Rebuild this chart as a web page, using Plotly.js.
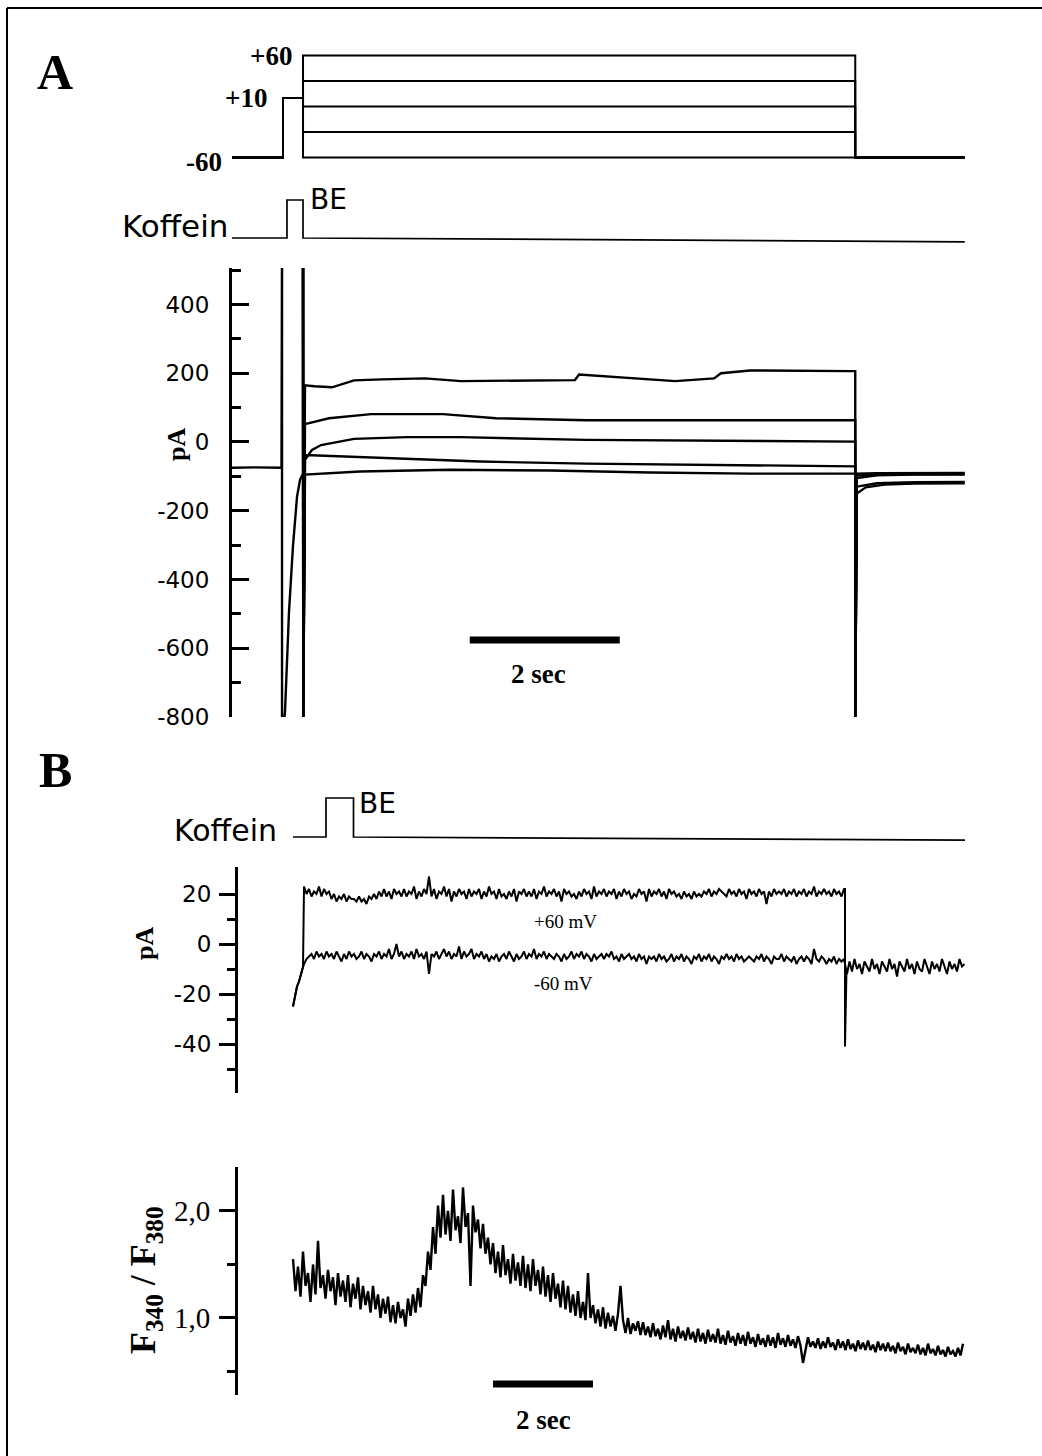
<!DOCTYPE html>
<html><head><meta charset="utf-8">
<script src="https://cdn.plot.ly/plotly-3.0.1.min.js"></script>
<style>html,body{margin:0;padding:0;background:#fff}#chart{width:1042px;height:1456px}</style>
</head><body><div id="chart"></div>
<script>
// ================= DATA =================
// ---- Panel A: voltage protocol (mV) ----
const holdV = -60, preV = 10;
const stepLevels = [60, 30, 0, -30, -60];
const protoTime = [0, 0.68, 0.68, 0.947, 0.947, 8.31, 8.31, 9.77]; // s
const protoLabels = ["+60", "+10", "-60"];

// ---- Panel A: caffeine application (BE) ----
const kofATime = [0, 0.733, 0.733, 0.947, 0.947, 9.77];
const kofAVal  = [0, 0, 1, 1, 0, -0.1];

// ---- Panel A: membrane currents (pA) ----
const preCurTime = [0, 0.30, 0.66, 0.667, 0.667, 0.70, 0.707, 0.733, 0.76, 0.813, 0.867, 0.907, 0.94];
const preCurVal  = [-75, -74, -75, 600, -800, -800, -783, -650, -494, -303, -159, -110, -95];

const curP60Time = [0.947, 0.950, 0.973, 1.10, 1.333, 1.627, 2.0, 2.573, 3.053, 3.76, 4.2, 4.573, 4.627, 5.187, 5.907, 6.427, 6.52, 6.907, 7.573, 8.24, 8.31, 8.31, 8.33, 8.45, 8.7, 9.1, 9.77];
const curP60Val  = [600, -800, 165, 162, 159, 179, 182, 185, 177, 179, 181, 180, 196, 188, 177, 185, 200, 208, 206, 206, 206, -800, -150, -132, -124, -121, -120];

const curP30Time = [0.947, 0.950, 0.973, 1.293, 1.853, 2.813, 3.52, 4.72, 5.667, 7.0, 8.24, 8.31, 8.31, 8.33, 8.6, 9.1, 9.77];
const curP30Val  = [600, -800, 52, 69, 81, 81, 69, 63, 63, 64, 63, 63, -800, -130, -120, -117, -116];

const cur0Time = [0.947, 0.950, 0.973, 1.067, 1.187, 1.627, 2.333, 3.053, 4.72, 6.5, 8.24, 8.31, 8.31, 8.33, 8.6, 9.1, 9.77];
const cur0Val  = [600, -800, -52, -23, -9, 9, 14, 14, 6, 4, 1, 1, -800, -105, -97, -95, -95];

const curM30Time = [0.947, 0.950, 0.973, 1.627, 2.333, 3.307, 4.72, 6.24, 7.573, 8.24, 8.31, 8.31, 8.33, 8.6, 9.1, 9.77];
const curM30Val  = [600, -800, -38, -43, -49, -57, -63, -66, -69, -71, -71, -800, -98, -94, -93, -93];

const curM60Time = [0.947, 0.950, 0.973, 1.173, 1.707, 2.907, 4.24, 5.573, 6.907, 8.24, 8.31, 8.31, 8.33, 8.6, 9.1, 9.77];
const curM60Val  = [600, -800, -95, -92, -86, -81, -83, -89, -92, -92, -92, -800, -92, -91, -90, -90];

const yTicksA = [-800, -600, -400, -200, 0, 200, 400];
const yTickTextA = ["-800", "-600", "-400", "-200", "0", "200", "400"];
const yMinorA = [-700, -500, -300, -100, 100, 300, 500];
const scaleBarA = {start: 3.17, length: 2, label: "2 sec"};

// ---- Panel B: caffeine application ----
const kofBTime = [1.10, 1.76, 1.76, 2.31, 2.31, 14.54];
const kofBVal  = [0, 0, 1, 1, 0, -0.08];

// ---- Panel B: currents (pA), sampled every 0.05 s ----
const bStartTime = [1.10, 1.14, 1.18, 1.22, 1.26, 1.30];
const bStartVal  = [-25, -21, -17, -15, -12, -9];
const sampleDt = 0.05;
const bStepStart = 1.32;
const bP60 = [
 23,20,22,19,21,20,23,19,22,20, 21,18,20,17,19,18,20,17,19,18,
 18,17,19,17,18,16,19,18,20,18, 21,19,22,19,21,18,22,20,21,19,
 22,19,21,20,23,18,21,19,22,20, 27,19,22,18,21,20,23,19,22,17,
 21,19,22,20,21,18,22,19,21,20, 22,18,21,19,23,20,21,18,22,19,
 20,18,21,19,22,17,21,20,22,19, 21,19,22,18,21,20,23,19,21,20,
 22,19,21,17,22,20,21,19,20,18, 21,19,22,20,21,18,23,19,21,20,
 22,19,21,20,22,18,21,19,22,20, 21,18,20,19,22,20,21,17,22,19,
 21,20,22,19,21,18,22,20,21,19, 20,18,21,19,20,18,21,19,20,19,
 21,20,22,19,21,20,22,21,20,19, 22,20,21,19,22,20,21,18,22,20,
 21,19,22,20,21,16,21,19,22,20, 21,20,22,19,21,20,22,19,21,20,
 22,19,21,20,23,19,21,20,22,20, 21,19,22,20,21,19,22];
const bP60EndTime = [12.14, 12.14, 12.17];
const bP60EndVal  = [22, -41, -10];
const bM60 = [
 -8,-6,-5,-4,-6,-3,-5,-4,-6,-3, -5,-4,-6,-3,-5,-7,-4,-6,-3,-5,
 -4,-6,-5,-3,-6,-4,-5,-7,-4,-5, -3,-6,-4,-5,-2,-6,-4,0,-5,-3,
 -6,-4,-5,-3,-6,-2,-5,-4,-6,-3, -12,-4,-5,-3,-6,-4,-2,-5,-3,-6,
 -4,-5,-1,-6,-3,-5,-4,-2,-6,-4, -5,-3,-6,-4,-7,-5,-6,-4,-7,-5,
 -4,-6,-3,-5,-7,-4,-6,-5,-3,-6, -4,-5,-2,-6,-4,-5,-3,-6,-4,-5,
 -6,-4,-5,-7,-4,-6,-5,-3,-6,-4, -5,-3,-6,-4,-5,-7,-4,-6,-5,-4,
 -6,-4,-5,-3,-6,-5,-7,-4,-6,-5, -4,-6,-5,-7,-4,-6,-5,-8,-5,-6,
 -5,-7,-4,-6,-5,-7,-6,-4,-7,-5, -6,-4,-7,-5,-6,-8,-5,-6,-4,-7,
 -5,-6,-4,-7,-5,-6,-8,-5,-6,-4, -6,-5,-7,-4,-6,-5,-7,-6,-5,-6,
 -7,-5,-6,-4,-7,-5,-6,-8,-5,-6, -6,-4,-7,-5,-6,-7,-5,-8,-6,-5,
 -7,-5,-6,-8,-2,-6,-7,-5,-6,-8, -6,-7,-5,-8,-6,-7,-6];
const bTailStart = 12.18;
const bTail = [
 -12,-7,-11,-6,-10,-8,-12,-7,-9,-11, -6,-10,-8,-12,-7,-9,-11,-6,-10,-8,
 -13,-7,-9,-11,-6,-10,-8,-12,-7,-10, -11,-6,-9,-12,-7,-10,-8,-11,-6,-9,
 -12,-7,-10,-8,-11,-6,-9,-8];
const bTraceLabels = ["+60 mV", "-60 mV"];
const yTicksB = [-40, -20, 0, 20];
const yTickTextB = ["-40", "-20", "0", "20"];
const yMinorB = [-50, -30, -10, 10];

// ---- Panel B: Fura-2 ratio F340/F380, sampled every 0.05 s ----
const fStart = 1.10;
const fRatio = [
 1.55,1.25,1.48,1.20,1.62,1.30,1.42,1.15,1.50,1.22,
 1.72,1.28,1.40,1.18,1.45,1.25,1.38,1.12,1.42,1.20,
 1.35,1.15,1.40,1.10,1.32,1.18,1.38,1.08,1.30,1.12,
 1.25,1.05,1.30,1.08,1.22,1.00,1.18,1.04,1.20,0.96,
 1.12,0.95,1.15,1.00,1.08,0.92,1.18,1.02,1.22,1.05,
 1.28,1.10,1.40,1.30,1.62,1.45,1.85,1.60,2.05,1.75,
 2.15,1.78,2.00,1.72,2.20,1.82,1.95,1.70,2.22,1.85,
 1.98,1.30,2.05,1.80,1.92,1.65,1.88,1.60,1.75,1.50,
 1.70,1.42,1.62,1.38,1.68,1.40,1.55,1.32,1.60,1.35,
 1.52,1.30,1.58,1.28,1.50,1.25,1.55,1.30,1.45,1.22,
 1.48,1.20,1.40,1.15,1.42,1.18,1.32,1.10,1.35,1.08,
 1.30,1.05,1.22,1.02,1.25,1.00,1.15,0.98,1.42,1.00,
 1.12,0.95,1.08,0.92,1.10,0.90,1.05,0.92,1.02,0.88,
 1.04,1.30,0.98,0.86,1.00,0.85,0.95,0.88,0.97,0.84,
 0.96,0.84,0.92,0.82,0.95,0.83,0.90,0.80,0.93,0.82,
 0.98,0.80,0.90,0.78,0.92,0.81,0.88,0.79,0.91,0.80,
 0.87,0.77,0.90,0.78,0.86,0.76,0.89,0.78,0.85,0.77,
 0.90,0.76,0.84,0.75,0.88,0.77,0.83,0.74,0.86,0.76,
 0.84,0.74,0.87,0.76,0.82,0.73,0.85,0.75,0.81,0.73,
 0.84,0.74,0.82,0.72,0.86,0.75,0.81,0.73,0.84,0.74,
 0.80,0.72,0.83,0.74,0.58,0.71,0.82,0.73,0.78,0.72,
 0.81,0.71,0.78,0.72,0.82,0.73,0.77,0.70,0.80,0.72,
 0.78,0.70,0.80,0.71,0.76,0.69,0.79,0.71,0.77,0.70,
 0.79,0.70,0.75,0.68,0.78,0.70,0.76,0.69,0.77,0.69,
 0.74,0.67,0.77,0.69,0.73,0.66,0.76,0.68,0.72,0.67,
 0.75,0.66,0.72,0.65,0.76,0.67,0.71,0.65,0.74,0.66,
 0.70,0.64,0.73,0.66,0.69,0.64,0.72,0.65,0.76];
const yTicksF = [1, 2];
const yTickTextF = ["1,0", "2,0"];
const yMinorF = [0.5, 1.5];
const scaleBarB = {start: 5.1, length: 2, label: "2 sec"};

// ================= LAYOUT HELPERS =================
const W = 1042, H = 1456;
const px = x => x / W;
const py = y => 1 - y / H;
const dx = (l, r) => [l / W, r / W];
const dy = (t, b) => [1 - b / H, 1 - t / H];
const timeBase = (t0, n) => Array.from({length: n}, (_, i) => +(t0 + i * sampleDt).toFixed(4));

const K = '#000';
const line = (w) => ({color: K, width: w});

const traces = [];
// voltage protocol
stepLevels.forEach(L => {
  traces.push({x: protoTime, y: [holdV, holdV, preV, preV, L, L, holdV, holdV],
    xaxis: 'x', yaxis: 'y', mode: 'lines', line: line(2)});
});
// caffeine A
traces.push({x: kofATime, y: kofAVal, xaxis: 'x', yaxis: 'y2', mode: 'lines', line: line(1.7)});
// currents A
traces.push({x: preCurTime, y: preCurVal, xaxis: 'x', yaxis: 'y3', mode: 'lines', line: line(2.4)});
[[curP60Time, curP60Val], [curP30Time, curP30Val], [cur0Time, cur0Val], [curM30Time, curM30Val], [curM60Time, curM60Val]]
  .forEach(([t, v]) => traces.push({x: t, y: v, xaxis: 'x', yaxis: 'y3', mode: 'lines', line: line(2.4)}));
// caffeine B
traces.push({x: kofBTime, y: kofBVal, xaxis: 'x2', yaxis: 'y4', mode: 'lines', line: line(1.7)});
// currents B
const p60T = timeBase(bStepStart, bP60.length);
const m60T = timeBase(bStepStart, bM60.length);
const tailT = timeBase(bTailStart, bTail.length);
traces.push({x: bStartTime.concat(p60T, bP60EndTime), y: bStartVal.concat(bP60, bP60EndVal),
  xaxis: 'x2', yaxis: 'y5', mode: 'lines', line: line(2)});
traces.push({x: bStartTime.concat(m60T, tailT), y: bStartVal.concat(bM60, bTail),
  xaxis: 'x2', yaxis: 'y5', mode: 'lines', line: line(2)});
// ratio
traces.push({x: timeBase(fStart, fRatio.length), y: fRatio, xaxis: 'x2', yaxis: 'y6', mode: 'lines', line: line(2.4)});

const serif = 'Liberation Serif, Times New Roman, serif';
const sans = 'DejaVu Sans, Arial, sans-serif';

const hiddenY = (dom, rng, anchor) => ({domain: dom, range: rng, anchor: anchor, visible: false, fixedrange: true});

const layout = {
  width: W, height: H, margin: {l: 0, r: 0, t: 0, b: 0},
  paper_bgcolor: '#fff', plot_bgcolor: 'rgba(0,0,0,0)', showlegend: false,
  xaxis: {domain: dx(232, 970), range: [0, (970 - 232) / 75], anchor: 'y3', visible: false},
  xaxis2: {domain: dx(238, 970), range: [0, (970 - 238) / 50], anchor: 'y6', visible: false},
  yaxis: hiddenY(dy(40, 170), [-74.7, 78.2], 'x'),
  yaxis2: hiddenY(dy(185, 250), [-0.316, 1.395], 'x'),
  yaxis3: {domain: dy(268, 717), range: [-800, 506], anchor: 'x',
    showline: true, linecolor: K, linewidth: 3, showgrid: false, zeroline: false,
    ticks: 'inside', ticklen: 17, tickwidth: 3, tickcolor: K,
    tickvals: yTicksA, ticktext: yTickTextA, ticklabelstandoff: 15,
    tickfont: {family: sans, size: 23, color: K},
    minor: {tickvals: yMinorA, ticks: 'inside', ticklen: 9, tickwidth: 3, tickcolor: K, showgrid: false}},
  yaxis4: hiddenY(dy(785, 848), [-0.282, 1.333], 'x2'),
  yaxis5: {domain: dy(867, 1093), range: [-59.6, 30.8], anchor: 'x2',
    showline: true, linecolor: K, linewidth: 3, showgrid: false, zeroline: false,
    ticks: 'outside', ticklen: 16, tickwidth: 3, tickcolor: K,
    tickvals: yTicksB, ticktext: yTickTextB, ticklabelstandoff: 3,
    tickfont: {family: sans, size: 23, color: K},
    minor: {tickvals: yMinorB, ticks: 'outside', ticklen: 8, tickwidth: 3, tickcolor: K, showgrid: false}},
  yaxis6: {domain: dy(1167, 1395), range: [0.280, 2.411], anchor: 'x2',
    showline: true, linecolor: K, linewidth: 3, showgrid: false, zeroline: false,
    ticks: 'outside', ticklen: 16, tickwidth: 3, tickcolor: K,
    tickvals: yTicksF, ticktext: yTickTextF, ticklabelstandoff: 3,
    tickfont: {family: serif, size: 29, color: K},
    minor: {tickvals: yMinorF, ticks: 'outside', ticklen: 8, tickwidth: 3, tickcolor: K, showgrid: false}},
  shapes: [
    {type: 'line', xref: 'paper', yref: 'paper', x0: px(7), x1: px(1042), y0: py(8), y1: py(8), line: {color: K, width: 2}},
    {type: 'line', xref: 'paper', yref: 'paper', x0: px(7), x1: px(7), y0: py(8), y1: py(1456), line: {color: K, width: 2}},
    {type: 'line', xref: 'x', yref: 'paper', x0: scaleBarA.start, x1: scaleBarA.start + scaleBarA.length, y0: py(640), y1: py(640), line: {color: K, width: 7}},
    {type: 'line', xref: 'x2', yref: 'paper', x0: scaleBarB.start, x1: scaleBarB.start + scaleBarB.length, y0: py(1384), y1: py(1384), line: {color: K, width: 7}}
  ],
  annotations: [
    {text: '<b>A</b>', x: px(55), y: py(72), font: {family: serif, size: 50, color: K}},
    {text: '<b>B</b>', x: px(55), y: py(770), font: {family: serif, size: 50, color: K}},
    {text: '<b>' + protoLabels[0] + '</b>', x: px(294), y: py(56), xanchor: 'right', font: {family: serif, size: 27, color: K}},
    {text: '<b>' + protoLabels[1] + '</b>', x: px(269), y: py(98), xanchor: 'right', font: {family: serif, size: 27, color: K}},
    {text: '<b>' + protoLabels[2] + '</b>', x: px(224), y: py(162), xanchor: 'right', font: {family: serif, size: 27, color: K}},
    {text: 'Koffein', x: px(230), y: py(226), xanchor: 'right', font: {family: sans, size: 31, color: K}},
    {text: 'BE', x: px(308), y: py(200), xanchor: 'left', font: {family: sans, size: 28, color: K}},
    {text: 'Koffein', x: px(279), y: py(830), xanchor: 'right', font: {family: sans, size: 30, color: K}},
    {text: 'BE', x: px(357), y: py(803), xanchor: 'left', font: {family: sans, size: 28, color: K}},
    {text: '<b>pA</b>', x: px(176), y: py(445), textangle: -90, font: {family: serif, size: 26, color: K}},
    {text: '<b>pA</b>', x: px(144), y: py(944), textangle: -90, font: {family: serif, size: 26, color: K}},
    {text: '<b>F<sub>340</sub> / F<sub>380</sub></b>', x: px(145), y: py(1280), textangle: -90, font: {family: serif, size: 36, color: K}},
    {text: bTraceLabels[0], x: px(565), y: py(921), font: {family: serif, size: 19, color: K}},
    {text: bTraceLabels[1], x: px(563), y: py(983), font: {family: serif, size: 19, color: K}},
    {text: '<b>' + scaleBarA.label + '</b>', x: px(538), y: py(674), font: {family: serif, size: 27, color: K}},
    {text: '<b>' + scaleBarB.label + '</b>', x: px(543), y: py(1420), font: {family: serif, size: 27, color: K}}
  ].map(a => Object.assign({xref: 'paper', yref: 'paper', showarrow: false, xanchor: 'center', yanchor: 'middle'}, a))
};

Plotly.newPlot('chart', traces, layout, {displayModeBar: false, staticPlot: true});
</script>
</body></html>
